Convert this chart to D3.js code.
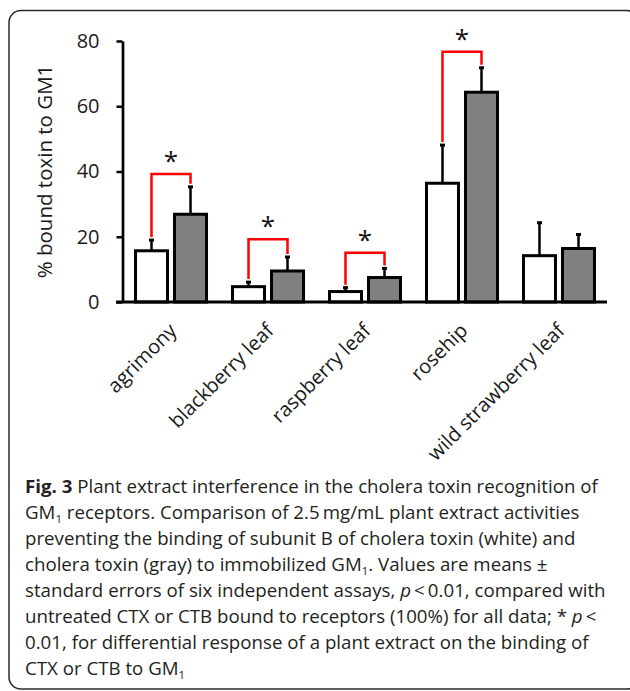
<!DOCTYPE html>
<html>
<head>
<meta charset="utf-8">
<script src="https://cdn.jsdelivr.net/npm/d3@7"></script>
<style>
  html, body { margin: 0; padding: 0; background: #fff; }
  svg { display: block; }
  text { font-family: "Open Sans", "Noto Sans", sans-serif; }
</style>
</head>
<body>
<svg id="chart" width="630" height="691"></svg>
<script>
// ---------- data ----------
const categories = ["agrimony", "blackberry leaf", "raspberry leaf", "rosehip", "wild strawberry leaf"];
const series = ["CTB", "CTX"];              // white, gray
const ctbMean = [15.7, 4.7, 3.2, 36.4, 14.2];
const ctbSE   = [3.6, 1.7, 1.5, 12.0, 10.4];
const ctxMean = [26.9, 9.5, 7.5, 64.3, 16.4];
const ctxSE   = [8.7, 4.6, 3.1, 7.8, 4.6];
const sigLevel = [39.2, 19.2, 15.1, 76.7, null]; // red bracket heights (* p < 0.01)
const yTicks = [0, 20, 40, 60, 80];
const yTitle = "% bound toxin to GM1";

const captionLines = [
  [["Fig. 3", "b"], [" Plant extract interference in the cholera toxin recognition of", ""]],
  [["GM", ""], ["1", "sub"], [" receptors. Comparison of 2.5\u2009mg/mL plant extract activities", ""]],
  [["preventing the binding of subunit B of cholera toxin (white) and", ""]],
  [["cholera toxin (gray) to immobilized GM", ""], ["1", "sub"], [". Values are means \u00b1", ""]],
  [["standard errors of six independent assays, ", ""], ["p", "i"], ["\u2009<\u20090.01, compared with", ""]],
  [["untreated CTX or CTB bound to receptors (100%) for all data; * ", ""], ["p", "i"], ["\u2009<", ""]],
  [["0.01, for differential response of a plant extract on the binding of", ""]],
  [["CTX or CTB to GM", ""], ["1", "sub"]]
];

// ---------- layout ----------
const svg = d3.select("#chart");
const fills = { CTB: "#ffffff", CTX: "#808080" };

// frame
svg.append("rect")
  .attr("x", 9).attr("y", 10.5).attr("width", 630).attr("height", 678.5)
  .attr("rx", 12).attr("ry", 12)
  .attr("fill", "none").attr("stroke", "#2b2b2b").attr("stroke-width", 1.5);

const y = d3.scaleLinear().domain([0, 80]).range([302, 41]);
const x0 = d3.scaleBand().domain(categories).range([123, 607]).paddingInner(0.268).paddingOuter(0.129);
const x1 = d3.scaleBand().domain(series).range([0, x0.bandwidth()]).paddingInner(0.18);

const rows = categories.map((c, i) => ({
  cat: c,
  bars: [
    { s: "CTB", v: ctbMean[i], e: ctbSE[i] },
    { s: "CTX", v: ctxMean[i], e: ctxSE[i] }
  ],
  sig: sigLevel[i]
}));

// y axis
const yAxis = svg.append("g")
  .attr("transform", "translate(122.5,0)")
  .call(d3.axisLeft(y).tickValues(yTicks).tickSize(6).tickSizeOuter(0).tickPadding(17));
yAxis.select(".domain").attr("stroke", "#000").attr("stroke-width", 2.7);
yAxis.selectAll(".tick line").attr("stroke", "#000").attr("stroke-width", 2.5);
yAxis.selectAll(".tick text").attr("font-size", 20).attr("fill", "#1a1a1a")
  .style("font-family", "'Open Sans', sans-serif");

// y title
svg.append("text")
  .attr("transform", "translate(45," + ((y(0) + y(80)) / 2) + ") rotate(-90)")
  .attr("text-anchor", "middle").attr("dy", "0.35em")
  .attr("font-size", 20.5).attr("fill", "#1a1a1a")
  .text(yTitle);

// bars
const groups = svg.append("g").selectAll("g").data(rows).join("g")
  .attr("transform", d => "translate(" + x0(d.cat) + ",0)");

groups.selectAll("rect").data(d => d.bars).join("rect")
  .attr("x", b => x1(b.s))
  .attr("y", b => y(b.v))
  .attr("width", x1.bandwidth())
  .attr("height", b => y(0) - y(b.v))
  .attr("fill", b => fills[b.s])
  .attr("stroke", "#000").attr("stroke-width", 3);

// error bars (upper only)
groups.selectAll("line.err").data(d => d.bars).join("line")
  .attr("class", "err")
  .attr("x1", b => x1(b.s) + x1.bandwidth() / 2)
  .attr("x2", b => x1(b.s) + x1.bandwidth() / 2)
  .attr("y1", b => y(b.v))
  .attr("y2", b => y(b.v + b.e))
  .attr("stroke", "#000").attr("stroke-width", 2.5);
groups.selectAll("line.cap").data(d => d.bars).join("line")
  .attr("class", "cap")
  .attr("x1", b => x1(b.s) + x1.bandwidth() / 2 - 2.5)
  .attr("x2", b => x1(b.s) + x1.bandwidth() / 2 + 2.5)
  .attr("y1", b => y(b.v + b.e) + 1)
  .attr("y2", b => y(b.v + b.e) + 1)
  .attr("stroke", "#000").attr("stroke-width", 3);

// significance brackets
const sigRows = rows.filter(d => d.sig != null);
const sg = svg.append("g").selectAll("g").data(sigRows).join("g")
  .attr("transform", d => "translate(" + x0(d.cat) + ",0)");
sg.append("path")
  .attr("d", d => {
    const a = d.bars[0], b = d.bars[1];
    const xa = x1(a.s) + x1.bandwidth() / 2, xb = x1(b.s) + x1.bandwidth() / 2;
    return "M" + xa + "," + (y(a.v + a.e) - 2) + "V" + y(d.sig) + "H" + xb + "V" + (y(b.v + b.e) - 2);
  })
  .attr("fill", "none").attr("stroke", "#ff0000").attr("stroke-width", 2.5);
sg.append("text")
  .attr("x", x0.bandwidth() / 2)
  .attr("y", d => y(d.sig) - 4)
  .attr("text-anchor", "middle")
  .attr("font-size", 26).attr("fill", "#111")
  .text("*");

// x axis
svg.append("line")
  .attr("x1", 116).attr("x2", x0.range()[1])
  .attr("y1", y(0)).attr("y2", y(0))
  .attr("stroke", "#000").attr("stroke-width", 3);
const xAxis = svg.append("g").attr("transform", "translate(0," + y(0) + ")")
  .call(d3.axisBottom(x0).tickSize(0).tickPadding(0));
xAxis.select(".domain").remove();
xAxis.selectAll(".tick text")
  .attr("text-anchor", "end")
  .attr("x", 0).attr("y", 0).attr("dy", "0.35em")
  .attr("transform", "translate(2,25) rotate(-45)")
  .attr("font-size", 20).attr("fill", "#1a1a1a")
  .style("font-family", "'Open Sans', sans-serif");

// caption
const cap = svg.append("g");
const capText = cap.selectAll("text").data(captionLines).join("text")
  .attr("x", 0)
  .attr("y", (d, i) => 493 + i * 26)
  .attr("font-size", 18).attr("fill", "#231f20");
capText.each(function(segs) {
  const t = d3.select(this);
  let sub = false;
  segs.forEach(([s, st]) => {
    const ts = t.append("tspan").text(s);
    if (st === "b") ts.attr("font-weight", 700);
    if (st === "i") ts.attr("font-style", "italic");
    if (st === "sub") { ts.attr("font-size", 11).attr("dy", 4); sub = true; }
    else if (sub) { ts.attr("dy", -4); sub = false; }
  });
});
const w0 = capText.nodes()[0].getComputedTextLength();
const k = (598 - 25) / w0;
cap.attr("transform", "translate(25,0) scale(" + k + ",1)");
</script>
</body>
</html>
